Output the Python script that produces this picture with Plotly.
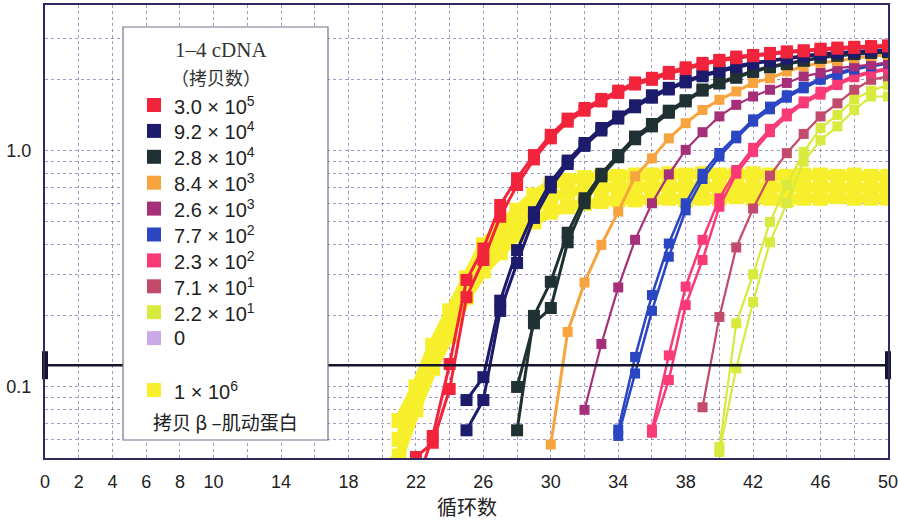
import plotly.graph_objects as go

# ---------------- data ----------------
x_label_ticks = [0, 2, 4, 6, 8, 10, 14, 18, 22, 26, 30, 34, 38, 42, 46, 50]
x_grid_ticks = [12, 16, 20, 24, 28, 32, 36, 40, 44, 48]

y_label_ticks = [0.1, 1]
y_label_text = ["0.1", "1.0"]
y_grid_ticks = [0.06, 0.07, 0.08, 0.09, 0.2, 0.3, 0.4, 0.5, 0.6, 0.7, 0.8, 0.9, 2, 3]

threshold = 0.1236

legend_labels = ["3.0 × 10<sup>5</sup>", "9.2 × 10<sup>4</sup>", "2.8 × 10<sup>4</sup>",
                 "8.4 × 10<sup>3</sup>", "2.6 × 10<sup>3</sup>", "7.7 × 10<sup>2</sup>",
                 "2.3 × 10<sup>2</sup>", "7.1 × 10<sup>1</sup>", "2.2 × 10<sup>1</sup>", "0"]
actin_label = "1 × 10<sup>6</sup>"
actin_note = "拷贝 β –肌动蛋白"

# 1-4 cDNA dilution series (two replicates each where two lines are visible)
red_start = 22
red_a = [0.0505, 0.058, 0.098, 0.24, 0.345, 0.526, 0.717, 0.92, 1.13, 1.33, 1.48, 1.62, 1.76, 1.91,
         2.0, 2.12, 2.22, 2.32, 2.40, 2.47, 2.52, 2.57, 2.61, 2.64, 2.68, 2.71, 2.73, 2.75, 2.77]
red_b = [0.038, 0.062, 0.125, 0.284, 0.386, 0.59, 0.766, 0.96, 1.17, 1.37, 1.52, 1.66, 1.80, 1.95,
         2.04, 2.16, 2.26, 2.36, 2.43, 2.51, 2.55, 2.60, 2.64, 2.67, 2.71, 2.74, 2.76, 2.78, 2.80]

navy_start = 25
navy_a = [0.0655, 0.088, 0.21, 0.335, 0.52, 0.70, 0.88, 1.05, 1.22, 1.37, 1.53, 1.68, 1.82, 1.95,
          2.07, 2.17, 2.26, 2.34, 2.40, 2.46, 2.51, 2.56, 2.60, 2.63, 2.65, 2.67]
navy_b = [0.088, 0.11, 0.232, 0.38, 0.55, 0.74, 0.91, 1.08, 1.25, 1.40, 1.56, 1.72, 1.85, 1.98,
          2.10, 2.20, 2.29, 2.36, 2.42, 2.48, 2.53, 2.58, 2.61, 2.64, 2.66, 2.68]

slate_start = 28
slate_a = [0.0655, 0.20, 0.279, 0.45, 0.63, 0.80, 0.96, 1.15, 1.30, 1.48, 1.64, 1.82, 1.95, 2.06,
           2.18, 2.28, 2.35, 2.42, 2.49, 2.54, 2.58, 2.61, 2.63]
slate_b = [0.10, 0.186, 0.216, 0.41, 0.60, 0.78, 0.94, 1.12, 1.27, 1.45, 1.62, 1.80, 1.93, 2.04,
           2.16, 2.26, 2.33, 2.41, 2.48, 2.53, 2.57, 2.60, 2.62]

orange_start = 30
orange_a = [0.057, 0.171, 0.277, 0.40, 0.553, 0.78, 0.93, 1.13, 1.31, 1.49, 1.646, 1.785, 1.94,
            2.03, 2.17, 2.28, 2.36, 2.40, 2.47, 2.52, 2.55]

magenta_start = 32
magenta_a = [0.080, 0.152, 0.264, 0.42, 0.60, 0.795, 1.01, 1.2, 1.4, 1.567, 1.70, 1.815, 1.94,
             2.07, 2.14, 2.24, 2.28, 2.32, 2.36]

blue_start = 34
blue_a = [0.062, 0.114, 0.21, 0.356, 0.56, 0.76, 0.946, 1.13, 1.33, 1.50, 1.68, 1.84, 2.0, 2.10,
          2.21, 2.28, 2.34]
blue_b = [0.066, 0.134, 0.245, 0.405, 0.60, 0.80, 0.98, 1.16, 1.36, 1.54, 1.72, 1.87, 2.03, 2.14,
          2.24, 2.30, 2.37]

pink_start = 36
pink_a = [0.064, 0.107, 0.222, 0.345, 0.58, 0.80, 0.99, 1.2, 1.4, 1.59, 1.73, 1.90, 2.05, 2.14, 2.21]
pink_b = [0.066, 0.136, 0.266, 0.42, 0.63, 0.83, 1.03, 1.24, 1.44, 1.62, 1.78, 1.94, 2.08, 2.17, 2.24]

mauve_start = 39
mauve_a = [0.082, 0.198, 0.39, 0.57, 0.785, 0.978, 1.18, 1.40, 1.59, 1.815, 2.0, 2.07]

lime_start = 40
lime_a = [0.0557, 0.186, 0.30, 0.50, 0.717, 0.99, 1.25, 1.42, 1.65, 1.80, 1.90]
lime_b = [0.053, 0.12, 0.229, 0.41, 0.60, 0.90, 1.11, 1.27, 1.49, 1.70, 1.70]

# beta-actin, 1e6 copies (thick yellow band = several replicates)
actin_start_a = 21
actin_a = [0.072, 0.10, 0.15, 0.21, 0.29, 0.40, 0.48, 0.56, 0.65, 0.72, 0.75, 0.77, 0.78, 0.78,
           0.79, 0.79, 0.80, 0.79, 0.80, 0.79, 0.79, 0.80, 0.79, 0.78, 0.79, 0.79, 0.78, 0.79,
           0.78, 0.78]
actin_start_b = 20
actin_b = [0.044, 0.051, 0.08, 0.12, 0.165, 0.24, 0.31, 0.37, 0.44, 0.50, 0.55, 0.58, 0.60, 0.61,
           0.62, 0.62, 0.63, 0.63, 0.62, 0.63, 0.63, 0.64, 0.63, 0.63, 0.62, 0.63, 0.63, 0.64,
           0.63, 0.63, 0.63]
actin_start_c = 21
actin_c = [0.06, 0.09, 0.135, 0.19, 0.265, 0.35, 0.42, 0.50, 0.57, 0.63, 0.67, 0.69, 0.70, 0.70,
           0.71, 0.70, 0.71, 0.70, 0.71, 0.70, 0.70, 0.71, 0.70, 0.70, 0.71, 0.70, 0.70, 0.71,
           0.70, 0.70]

colors = ["#f2243c", "#1d1b6b", "#1f3133", "#f8a43e", "#a52f78",
          "#2b46c2", "#fa3a76", "#c24a6a", "#d8ea3e", "#c9a9e6"]
actin_color = "#f7ef2c"

# ---------------- figure ----------------
PL, PR, PT, PB = 45, 888, 5, 458
W, H = 898, 524


def px_x(px):
    return (px - PL) / (PR - PL)


def px_y(py):
    return (PB - py) / (PB - PT)


fig = go.Figure()


def add_curve(start, vals, color, msize, lw):
    xs = list(range(start, start + len(vals)))
    fig.add_trace(go.Scatter(
        x=xs, y=vals, mode="lines+markers",
        line=dict(color=color, width=lw),
        marker=dict(symbol="square", size=msize, color=color),
        showlegend=False, hoverinfo="x+y"))


# beta-actin band first (underneath)
for s, v in [(actin_start_b, actin_b), (actin_start_c, actin_c), (actin_start_a, actin_a)]:
    add_curve(s, v, actin_color, 15, 10)

series = [
    (lime_start, [lime_a, lime_b], colors[8], 10, 2.2),
    (mauve_start, [mauve_a], colors[7], 10, 2.2),
    (pink_start, [pink_a, pink_b], colors[6], 10, 2.5),
    (blue_start, [blue_a, blue_b], colors[5], 10, 2.5),
    (magenta_start, [magenta_a], colors[4], 10, 2.2),
    (orange_start, [orange_a], colors[3], 10, 3),
    (slate_start, [slate_a, slate_b], colors[2], 12, 3),
    (navy_start, [navy_a, navy_b], colors[1], 12, 3),
    (red_start, [red_a, red_b], colors[0], 12, 3),
]
for start, reps, col, ms, lw in series:
    for vals in reps:
        add_curve(start, vals, col, ms, lw)

# threshold line with end bars
fig.add_trace(go.Scatter(
    x=[0, 50], y=[threshold, threshold], mode="lines+markers",
    line=dict(color="#15152c", width=2.5),
    marker=dict(symbol="line-ns", size=20, line=dict(width=6, color="#15152c")),
    cliponaxis=False, showlegend=False, hoverinfo="skip"))

grid_col = "rgba(100,85,160,0.6)"
axis_col = "#2c2a5e"
grid_style = dict(showgrid=True, gridcolor=grid_col, gridwidth=1, griddash="dot")

fig.update_xaxes(
    range=[-0.001, 50.001], tickmode="array", tickvals=x_label_ticks,
    ticktext=[str(v) for v in x_label_ticks],
    minor=dict(tickmode="array", tickvals=x_grid_ticks, ticks="", **grid_style),
    showline=True, linecolor=axis_col, linewidth=2, mirror=True,
    ticks="", ticklabelstandoff=6, zeroline=False, **grid_style,
    tickfont=dict(family="Liberation Sans, Arial, sans-serif", size=18, color="#222"))
fig.update_yaxes(
    type="log", range=[-1.30103, 0.618], tickmode="array", tickvals=y_label_ticks,
    ticktext=y_label_text,
    minor=dict(tickmode="array", tickvals=y_grid_ticks, ticks="", **grid_style),
    showline=True, linecolor=axis_col, linewidth=2, mirror=True,
    ticks="", ticklabelstandoff=8, zeroline=False, **grid_style,
    tickfont=dict(family="Liberation Sans, Arial, sans-serif", size=18, color="#222"))

shapes = []
annotations = []

# legend box
shapes.append(dict(type="rect", xref="paper", yref="paper",
                   x0=px_x(123), x1=px_x(328), y0=px_y(440), y1=px_y(27),
                   fillcolor="white", line=dict(color="#77708f", width=1.2), layer="above"))
annotations.append(dict(xref="paper", yref="paper", x=px_x(221), y=px_y(50),
                        text="1–4 cDNA", showarrow=False, xanchor="center", yanchor="middle",
                        font=dict(family="Liberation Serif, Times New Roman, serif", size=21, color="#333")))
annotations.append(dict(xref="paper", yref="paper", x=px_x(216), y=px_y(77),
                        text="（拷贝数）", showarrow=False, xanchor="center", yanchor="middle",
                        font=dict(family="Noto Sans CJK SC", size=18, color="#333")))

entry_y0 = 105
entry_dy = 25.9
for i, (lab, col) in enumerate(zip(legend_labels, colors)):
    cy = entry_y0 + i * entry_dy
    shapes.append(dict(type="rect", xref="paper", yref="paper",
                       x0=px_x(147), x1=px_x(161), y0=px_y(cy + 7), y1=px_y(cy - 7),
                       fillcolor=col, line=dict(width=0), layer="above"))
    annotations.append(dict(xref="paper", yref="paper", x=px_x(172), y=px_y(cy),
                            text=lab, showarrow=False, xanchor="left", yanchor="middle",
                            font=dict(family="Liberation Sans, Arial, sans-serif", size=20, color="#222")))

cy = 390
shapes.append(dict(type="rect", xref="paper", yref="paper",
                   x0=px_x(147), x1=px_x(161), y0=px_y(cy + 7), y1=px_y(cy - 7),
                   fillcolor=actin_color, line=dict(width=0), layer="above"))
annotations.append(dict(xref="paper", yref="paper", x=px_x(172), y=px_y(cy),
                        text=actin_label, showarrow=False, xanchor="left", yanchor="middle",
                        font=dict(family="Liberation Sans, Arial, sans-serif", size=20, color="#222")))
annotations.append(dict(xref="paper", yref="paper", x=px_x(151), y=px_y(421),
                        text=actin_note, showarrow=False, xanchor="left", yanchor="middle",
                        font=dict(family="Noto Sans CJK SC", size=19, color="#222")))

# x-axis title
annotations.append(dict(xref="paper", yref="paper", x=px_x(467), y=px_y(507),
                        text="循环数", showarrow=False, xanchor="center", yanchor="middle",
                        font=dict(family="Noto Sans CJK SC", size=20, color="#222")))

fig.update_layout(
    width=W, height=H,
    margin=dict(l=PL, r=W - PR, t=PT, b=H - PB, autoexpand=False),
    plot_bgcolor="white", paper_bgcolor="white",
    showlegend=False, shapes=shapes, annotations=annotations,
    hovermode="closest")

fig.write_html("out.html", config={"displayModeBar": False},
               post_script="document.body.style.margin='0px';document.body.style.overflow='hidden';")
